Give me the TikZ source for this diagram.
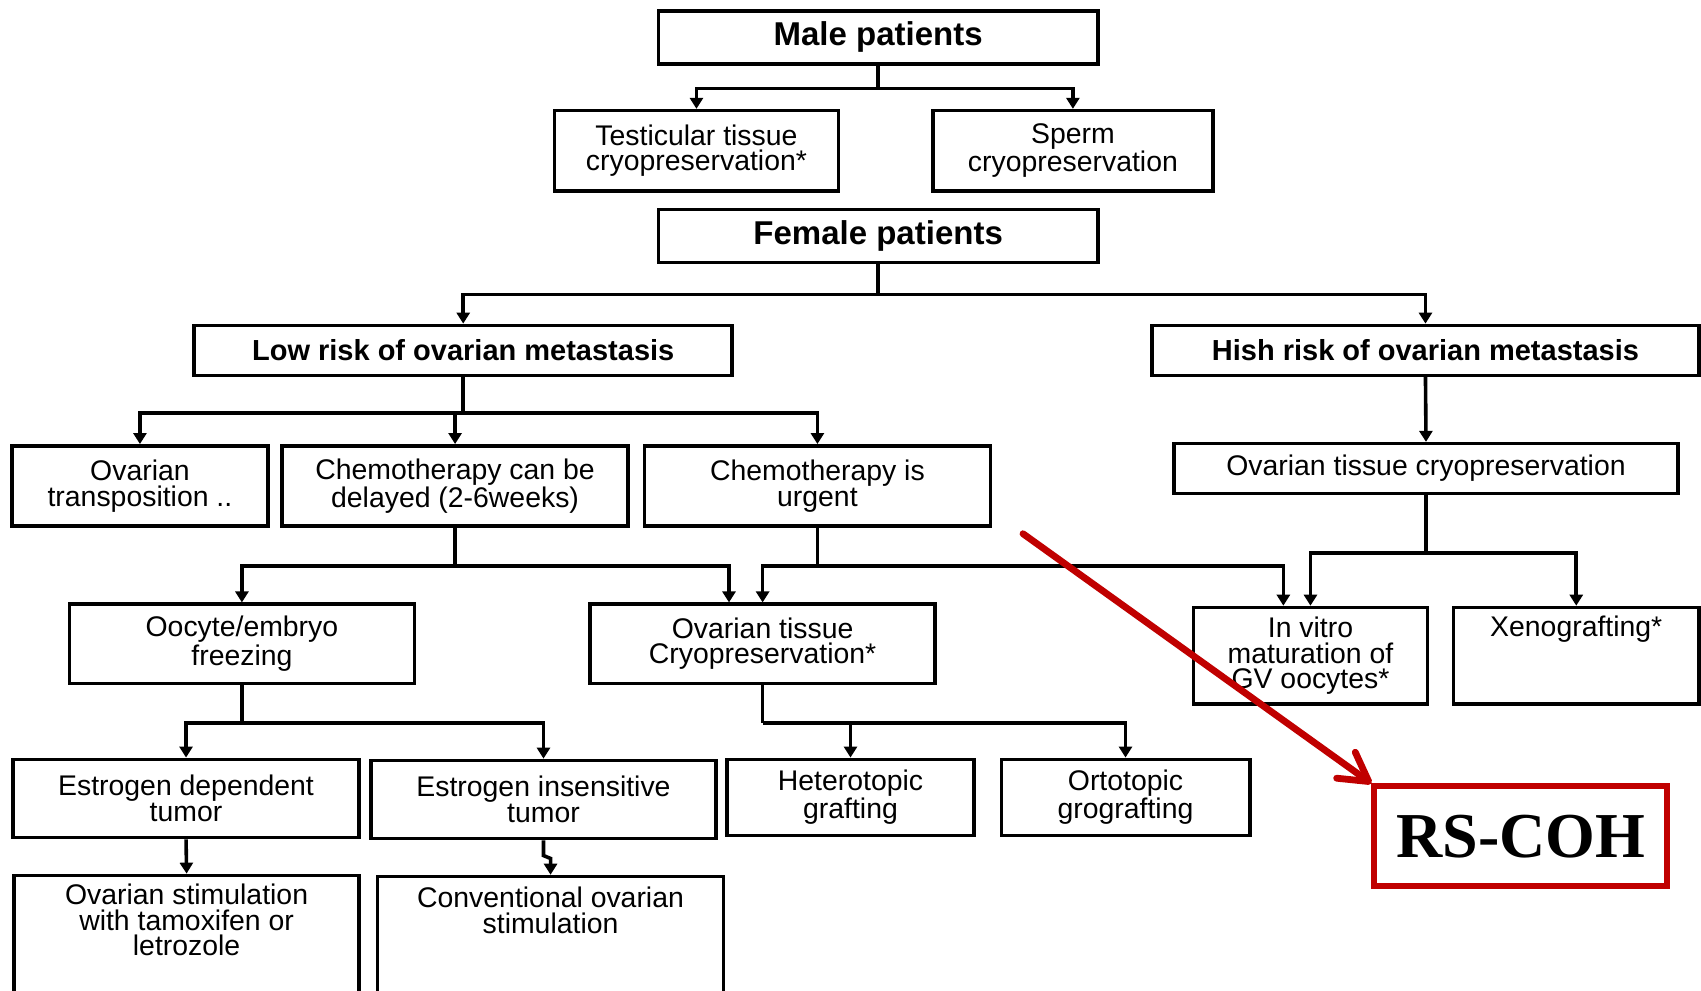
\documentclass[tikz,border=0pt]{standalone}
\usepackage{fontspec}
\setmainfont{Liberation Sans}
\newfontfamily\timesf{Liberation Serif}
\usetikzlibrary{arrows.meta,calc}
\newcommand\regf{\fontsize{14.2}{12.8}\selectfont}
\newcommand\bigbf{\bfseries\fontsize{16.5}{18}\selectfont}
\newcommand\midbf{\bfseries\fontsize{14.5}{16}\selectfont}
\newcommand\mkbox[7][]{\node[box,#1,minimum width={(#5-#3)*0.5424pt},minimum height={(#6-#4)*0.5424pt}] (#2) at ({(#3+#5)/2},{(#4+#6)/2}) {#7};}
\definecolor{rscred}{RGB}{192,0,0}
\tikzset{
  box/.style={draw, rectangle, line width=1.8pt, inner sep=2pt, align=center, font=\regf},
  toplab/.style={anchor=north, inner sep=0pt, yshift=-5pt, align=center, font=\regf},
  conn/.style={line width=1.8pt},
  arr/.style={line width=1.8pt, -{Triangle[length=5.5pt,width=6.5pt]}},
  redbox/.style={draw=rscred, rectangle, line width=3pt, inner sep=0pt, font=\timesf\bfseries\fontsize{32}{34}\selectfont},
  redarr/.style={draw=rscred, line width=3.4pt, line cap=round, -{Straight Barb[length=14pt,width=16pt,round]}}
}
\begin{document}
\begin{tikzpicture}[x=0.5424pt,y=-0.5424pt]
\useasboundingbox (0,0) rectangle (1568,913);
\clip (0,0) rectangle (1568,913);
% male
\mkbox[font=\bigbf]{male}{607}{10}{1012}{59}{Male patients}
\mkbox{testis}{511}{102}{773}{176}{Testicular tissue\\cryopreservation*}
\mkbox{sperm}{860}{102}{1118}{176}{Sperm\\cryopreservation}
% female
\mkbox[font=\bigbf]{female}{607}{193}{1012}{242}{Female patients}
\mkbox[font=\midbf]{low}{179}{300}{675}{346}{Low risk of ovarian metastasis}
\mkbox[font=\midbf]{high}{1062}{300}{1566}{346}{Hish risk of ovarian metastasis}
\mkbox{ovtrans}{11}{411}{247}{485}{Ovarian\\transposition ..}
\mkbox{chemd}{260}{411}{579}{485}{Chemotherapy can be\\delayed (2-6weeks)}
\mkbox{chemu}{594}{411}{913}{485}{Chemotherapy is\\urgent}
\mkbox{ovt2}{1082}{409}{1547}{455}{Ovarian tissue cryopreservation}
\mkbox{oocyte}{64}{557}{382}{630}{Oocyte/embryo\\freezing}
\mkbox{ovcryo}{544}{557}{862}{630}{Ovarian tissue\\Cryopreservation*}
\mkbox{invitro}{1100}{560}{1316}{649}{In vitro\\maturation of\\GV oocytes*}
\mkbox[label={[toplab]north:{Xenografting*}}]{xeno}{1340}{560}{1566}{649}{}
\mkbox{estdep}{12}{700}{331}{772}{Estrogen dependent\\tumor}
\mkbox{estins}{342}{701}{660}{773}{Estrogen insensitive\\tumor}
\mkbox{het}{670}{700}{898}{770}{Heterotopic\\grafting}
\mkbox{orto}{923}{700}{1152}{770}{Ortotopic\\grografting}
\mkbox[label={[toplab]north:{Ovarian stimulation\\with tamoxifen or\\letrozole}}]{ovstim}{13}{807}{331}{950}{}
\mkbox[label={[toplab,yshift=-1pt]north:{Conventional ovarian\\stimulation}}]{conv}{348}{808}{667}{950}{}
\node[redbox, minimum width={270*0.5424pt}, minimum height={92*0.5424pt}] (rscoh) at (1402,771) {RS-COH};
% connectors
\draw[conn] (male.south) -- ++(0,21) coordinate (mj);
\draw[arr] (mj) -| (testis.north);
\draw[arr] (mj) -| (sperm.north);
\draw[conn] (female.south) -- ++(0,28) coordinate (fj);
\draw[arr] (fj) -| (low.north);
\draw[arr] (fj) -| (high.north);
\draw[conn] (low.south) -- ++(0,33) coordinate (lj);
\draw[arr] (lj) -| (ovtrans.north);
\draw[arr] (lj) -| (chemd.north);
\draw[arr] (lj) -| (chemu.north);
\draw[arr] (high.south) -- (ovt2.north);
\draw[conn] (chemd.south) -- ++(0,35) coordinate (dj);
\draw[arr] (dj) -| (oocyte.north);
\draw[arr] (dj) -| ($(ovcryo.north)+(-31,0)$);
\draw[conn] (chemu.south) -- ++(0,35) coordinate (uj);
\draw[arr] (uj) -| (ovcryo.north);
\draw[arr] (uj) -| ($(invitro.north)+(-25,0)$);
\draw[conn] (ovt2.south) -- ++(0,53) coordinate (tj);
\draw[arr] (tj) -| (invitro.north);
\draw[arr] (tj) -| (xeno.north);
\draw[conn] (oocyte.south) -- ++(0,35) coordinate (oj);
\draw[arr] (oj) -| (estdep.north);
\draw[arr] (oj) -| (estins.north);
\draw[conn] (ovcryo.south) -- ++(0,35) coordinate (cj);
\draw[arr] (cj) -| (het.north);
\draw[arr] (cj) -| (orto.north);
\draw[arr] (estdep.south) -- (ovstim.north);
\draw[arr] (estins.south) -- ++(0,14) -- ($(conv.north)+(0,-15)$) -- (conv.north);
% red arrow
\coordinate (redstart) at (943,492);
\draw[redarr] (redstart) -- (rscoh.north west);
\end{tikzpicture}
\end{document}
